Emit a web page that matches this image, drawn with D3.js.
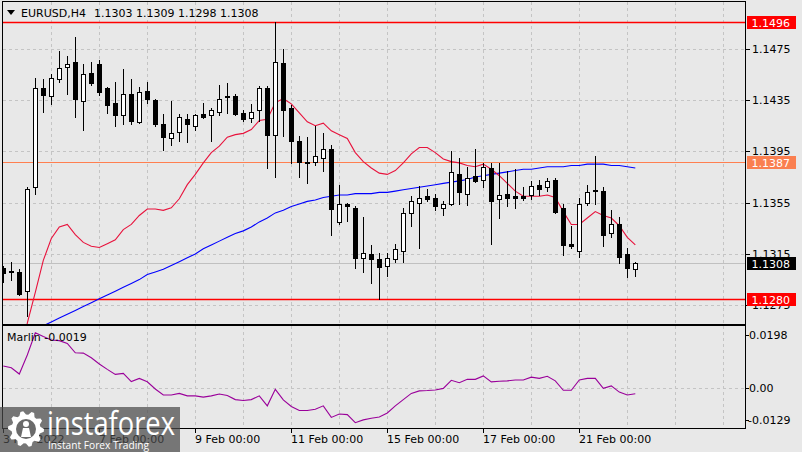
<!DOCTYPE html>
<html><head><meta charset="utf-8">
<script src="https://cdn.jsdelivr.net/npm/d3@7"></script>
<style>
html,body{margin:0;padding:0;background:#e8e8e8;}
svg{display:block;font-family:"DejaVu Sans",sans-serif;}
</style></head><body>
<svg id="c" width="802" height="452"></svg>
<script>
// ---------------- DATA ----------------
const symbol = "EURUSD,H4";
const lastOHLC = ["1.1303", "1.1309", "1.1298", "1.1308"];

const open = [
1.1304,1.1302,1.1301,1.1286,1.1367,1.1444,1.1438,1.1451,1.1461,1.1465,
1.1434,1.1456,1.1463,1.1444,1.1433,1.1423,1.1440,1.1418,1.1442,1.1435,
1.1416,1.1405,1.1410,1.1420,1.1415,1.1424,1.1423,1.1426,1.1438,1.1438,
1.1425,1.1421,1.1427,1.1444,1.1408,1.1464,1.1429,1.1403,1.1387,1.1387,
1.1390,1.1397,1.1340,1.1354,1.1351,1.1312,1.1315,1.1311,1.1306,1.1311,
1.1317,1.1347,1.1355,1.1360,1.1359,1.1351,1.1354,1.1377,1.1362,1.1376,
1.1373,1.1382,1.1358,1.1362,1.1360,1.1360,1.1361,1.1369,1.1367,1.1373,
1.1351,1.1323,1.1317,1.1355,1.1364,1.1364,1.1331,1.1338,1.1315,1.1303];
const high = [
1.1306,1.1309,1.1303,1.1367,1.1452,1.1451,1.1455,1.1473,1.1469,1.1484,
1.1463,1.1465,1.1466,1.1445,1.1449,1.1459,1.1451,1.1445,1.1449,1.1436,
1.1424,1.1434,1.1424,1.1424,1.1424,1.1433,1.1429,1.1447,1.1448,1.1440,
1.1427,1.1432,1.1446,1.1446,1.1496,1.1475,1.1431,1.1407,1.1406,1.1415,
1.1409,1.1400,1.1369,1.1355,1.1352,1.1344,1.1322,1.1316,1.1316,1.1323,
1.1351,1.1360,1.1368,1.1366,1.1362,1.1356,1.1395,1.1390,1.1383,1.1397,
1.1386,1.1386,1.1386,1.1380,1.1381,1.1367,1.1372,1.1373,1.1374,1.1374,
1.1354,1.1337,1.1359,1.1369,1.1391,1.1367,1.1349,1.1344,1.1320,1.1309];
const low = [
1.1293,1.1295,1.1283,1.1267,1.1362,1.1426,1.1432,1.1449,1.1440,1.1422,
1.1412,1.1447,1.1439,1.1425,1.1415,1.1416,1.1416,1.1417,1.1433,1.1415,
1.1396,1.1400,1.1403,1.1402,1.1412,1.1421,1.1403,1.1423,1.1425,1.1423,
1.1419,1.1418,1.1419,1.1382,1.1375,1.1407,1.1386,1.1375,1.1370,1.1384,
1.1380,1.1330,1.1338,1.1341,1.1304,1.1301,1.1292,1.1280,1.1298,1.1309,
1.1309,1.1337,1.1320,1.1356,1.1349,1.1345,1.1353,1.1354,1.1353,1.1371,
1.1367,1.1323,1.1343,1.1352,1.1351,1.1357,1.1358,1.1361,1.1364,1.1347,
1.1314,1.1320,1.1313,1.1353,1.1354,1.1321,1.1328,1.1308,1.1297,1.1298];
const close = [
1.1300,1.1301,1.1284,1.1366,1.1444,1.1439,1.1452,1.1460,1.1463,1.1436,
1.1455,1.1448,1.1441,1.1431,1.1423,1.1440,1.1419,1.1441,1.1436,1.1416,
1.1406,1.1409,1.1422,1.1416,1.1423,1.1422,1.1427,1.1436,1.1437,1.1424,
1.1420,1.1426,1.1444,1.1408,1.1465,1.1427,1.1403,1.1387,1.1386,1.1391,
1.1397,1.1350,1.1354,1.1352,1.1312,1.1316,1.1311,1.1305,1.1312,1.1319,
1.1347,1.1356,1.1359,1.1358,1.1352,1.1354,1.1379,1.1363,1.1374,1.1372,
1.1383,1.1356,1.1361,1.1359,1.1359,1.1359,1.1368,1.1366,1.1372,1.1348,
1.1322,1.1321,1.1354,1.1363,1.1365,1.1330,1.1338,1.1313,1.1304,1.1308];

const maFast = [
null,null,1.1232,1.1261,1.1285,1.1310,1.1327,1.1336,1.1338,1.1330,
1.1324,1.1321,1.1320,1.1323,1.1326,1.1334,1.1338,1.1345,1.1350,1.1350,
1.1349,1.1351,1.1358,1.1369,1.1377,1.1386,1.1394,1.1399,1.1406,1.1408,
1.1409,1.1412,1.1419,1.1420,1.1433,1.1436,1.1432,1.1425,1.1418,1.1415,
1.1417,1.1411,1.1408,1.1405,1.1394,1.1387,1.1382,1.1378,1.1377,1.1380,
1.1386,1.1393,1.1398,1.1398,1.1394,1.1389,1.1387,1.1386,1.1384,1.1383,
1.1385,1.1381,1.1376,1.1370,1.1364,1.1360,1.1360,1.1360,1.1361,1.1359,
1.1348,1.1338,1.1338,1.1343,1.1348,1.1345,1.1343,1.1337,1.1328,1.1322];
const maSlow = [
null,null,null,null,null,1.1259,1.1262,1.1265,1.1268,1.1271,
1.1274,1.1277,1.1280,1.1283,1.1286,1.1289,1.1292,1.1295,1.1299,1.1301,
1.1303,1.1306,1.1309,1.1312,1.1315,1.1319,1.1322,1.1325,1.1328,1.1331,
1.1333,1.1336,1.1340,1.1343,1.1347,1.1349,1.1352,1.1354,1.1356,1.1357,
1.1359,1.1360,1.1361,1.1361,1.1362,1.1362,1.1362,1.1363,1.1363,1.1364,
1.1365,1.1366,1.1367,1.1368,1.1369,1.1370,1.1371,1.1372,1.1373,1.1375,
1.1376,1.1377,1.1378,1.1379,1.1380,1.1381,1.1381,1.1382,1.1383,1.1383,
1.1383,1.1384,1.1384,1.1385,1.1385,1.1385,1.1384,1.1384,1.1383,1.1382];
const marlin = [
0.0070,0.0064,0.0044,0.0105,0.0176,0.0164,0.0153,0.0151,0.0142,0.0112,
0.0111,0.0096,0.0076,0.0059,0.0043,0.0046,0.0020,0.0030,0.0019,-0.0004,
-0.0023,-0.0023,-0.0018,-0.0026,-0.0026,-0.0030,-0.0026,-0.0020,-0.0025,-0.0038,
-0.0041,-0.0038,-0.0026,-0.0058,-0.0005,-0.0039,-0.0060,-0.0073,-0.0073,-0.0069,
-0.0058,-0.0095,-0.0084,-0.0086,-0.0112,-0.0103,-0.0098,-0.0094,-0.0081,-0.0058,
-0.0038,-0.0018,-0.0010,-0.0009,-0.0007,-0.0002,0.0024,0.0016,0.0027,0.0027,
0.0038,0.0019,0.0021,0.0022,0.0025,0.0025,0.0034,0.0030,0.0037,0.0022,
-0.0008,-0.0008,0.0025,0.0030,0.0030,-0.0002,0.0006,-0.0014,-0.0023,-0.0019];
const marlinName = "Marlin";
const marlinLast = "-0.0019";

const priceTicks = [1.1475, 1.1435, 1.1395, 1.1355, 1.1315, 1.1275];
const levelValues = [1.1496, 1.1387, 1.1280];
const bidValue = 1.1308;
const marlinTicks = [0.0198, 0, -0.0129];
const marlinTickLabels = ["0.0198", "0.00", "-0.0129"];
const dateTickBars = [0, 12, 24, 36, 48, 60, 72];
const dateTickLabels = ["3 Feb 2022", "7 Feb 00:00", "9 Feb 00:00", "11 Feb 00:00", "15 Feb 00:00", "17 Feb 00:00", "21 Feb 00:00"];
const gridBars = d3.range(6, 91, 6);

// ---------------- LAYOUT ----------------
const L = 3, R = 745, T = 2, MB = 324, IT = 326, IB = 428;
const svg = d3.select("#c");
svg.append("rect").attr("width", 802).attr("height", 452).attr("fill", "#e8e8e8");

const x = d3.scaleLinear().domain([0, 79]).range([3.3, 635.3]);
const y = d3.scaleLinear().domain([1.12604, 1.15114]).range([MB, T]);
const ym = d3.scaleLinear().domain([-0.0129, 0.0198]).range([IB, IT]);
const px = i => Math.floor(x(i)) + 0.5;

const defs = svg.append("defs");
defs.append("clipPath").attr("id", "cm").append("rect").attr("x", L).attr("y", T).attr("width", R - L).attr("height", MB - T);
defs.append("clipPath").attr("id", "ci").append("rect").attr("x", L).attr("y", IT).attr("width", R - L).attr("height", IB - IT);

const gridColor = "#c4c4c4";
// vertical grid
const vg = svg.append("g").attr("stroke", gridColor).attr("stroke-dasharray", "3,3").attr("shape-rendering", "crispEdges");
gridBars.forEach(b => {
  vg.append("line").attr("x1", px(b)).attr("x2", px(b)).attr("y1", T).attr("y2", MB);
  vg.append("line").attr("x1", px(b)).attr("x2", px(b)).attr("y1", IT).attr("y2", IB);
});
// horizontal grid main
priceTicks.forEach(p => {
  vg.append("line").attr("x1", L).attr("x2", R).attr("y1", Math.round(y(p)) + 0.5).attr("y2", Math.round(y(p)) + 0.5);
});
vg.append("line").attr("x1", L).attr("x2", R).attr("y1", Math.round(ym(0)) + 0.5).attr("y2", Math.round(ym(0)) + 0.5);

// level lines
const main = svg.append("g").attr("clip-path", "url(#cm)");
const levelColors = ["#ff0000", "#ff7f50", "#ff0000"];
main.append("line").attr("x1", L).attr("x2", R).attr("y1", Math.round(y(bidValue)) + 0.5).attr("y2", Math.round(y(bidValue)) + 0.5)
  .attr("stroke", "#c0c0c0").attr("shape-rendering", "crispEdges");
levelValues.forEach((v, k) => {
  main.append("line").attr("x1", L).attr("x2", R).attr("y1", Math.round(y(v)) + 0.5).attr("y2", Math.round(y(v)) + 0.5)
    .attr("stroke", levelColors[k]).attr("stroke-width", k === 1 ? 1 : 1.4);
});

// moving averages
const lineGen = d3.line().defined(d => d.v !== null).x(d => x(d.i)).y(d => y(d.v));
main.append("path").datum(maSlow.map((v, i) => ({ i, v }))).attr("d", lineGen)
  .attr("fill", "none").attr("stroke", "#0000ff").attr("stroke-width", 1.1);
main.append("path").datum(maFast.map((v, i) => ({ i, v }))).attr("d", lineGen)
  .attr("fill", "none").attr("stroke", "#e8123c").attr("stroke-width", 1.1);

// candles
const bars = open.map((o, i) => ({ i, o, h: high[i], l: low[i], c: close[i] }));
const cg = main.append("g").attr("shape-rendering", "crispEdges");
cg.selectAll("line.w").data(bars).join("line").attr("class", "w")
  .attr("x1", d => px(d.i)).attr("x2", d => px(d.i))
  .attr("y1", d => Math.round(y(d.h))).attr("y2", d => Math.round(y(d.l)) + 1)
  .attr("stroke", "#000");
cg.selectAll("rect.b").data(bars).join("rect").attr("class", "b")
  .each(function (d) {
    const top = Math.round(y(Math.max(d.o, d.c)));
    const bot = Math.round(y(Math.min(d.o, d.c)));
    const s = d3.select(this);
    if (d.c > d.o) {
      s.attr("x", px(d.i) - 2).attr("width", 4).attr("y", top + 0.5).attr("height", Math.max(bot - top, 1))
        .attr("fill", "#fff").attr("stroke", "#000");
    } else {
      s.attr("x", px(d.i) - 2.5).attr("width", 5).attr("y", top).attr("height", Math.max(bot - top + 1, 1))
        .attr("fill", "#000");
    }
  });

// marlin
const ind = svg.append("g").attr("clip-path", "url(#ci)");
ind.append("path").datum(marlin.map((v, i) => ({ i, v })))
  .attr("d", d3.line().x(d => x(d.i)).y(d => ym(d.v)))
  .attr("fill", "none").attr("stroke", "#9a009a").attr("stroke-width", 1.1);

// borders
const bd = svg.append("g").attr("fill", "none").attr("stroke", "#000").attr("shape-rendering", "crispEdges");
bd.append("rect").attr("x", L - 0.5).attr("y", T - 0.5).attr("width", R - L + 1).attr("height", MB - T + 1);
bd.append("rect").attr("x", L - 0.5).attr("y", IT - 0.5).attr("width", R - L + 1).attr("height", IB - IT + 1);

// price axis
const pa = svg.append("g").attr("transform", `translate(${R + 0.5},0)`)
  .call(d3.axisRight(y).tickValues(priceTicks).tickSize(4).tickFormat(d3.format(".4f")));
pa.select(".domain").remove();
pa.selectAll("line").attr("stroke", "#000").attr("shape-rendering", "crispEdges");
pa.selectAll("text").attr("font-size", 11).attr("font-family", "DejaVu Sans").attr("fill", "#000").attr("x", 6.5);

// level boxes
const boxData = [
  { v: levelValues[0], bg: "#ff0000", t: levelValues[0].toFixed(4) },
  { v: levelValues[1], bg: "#fa7f50", t: levelValues[1].toFixed(4) },
  { v: bidValue, bg: "#000000", t: bidValue.toFixed(4) },
  { v: levelValues[2], bg: "#ff0000", t: levelValues[2].toFixed(4) }
];
const bx = svg.append("g");
boxData.forEach(b => {
  const cy = Math.round(y(b.v));
  bx.append("rect").attr("x", 747).attr("y", cy - 6).attr("width", 49).attr("height", 13).attr("fill", b.bg);
  bx.append("text").attr("x", 751.5).attr("y", cy + 4.5).attr("font-size", 11).attr("fill", "#fff").text(b.t);
});

// marlin axis
const ma = svg.append("g");
marlinTicks.forEach((v, k) => {
  const cy = Math.min(Math.max(ym(v), IT + 9), IB - 8);
  ma.append("line").attr("x1", R + 1).attr("x2", R + 4).attr("y1", Math.round(cy) + 0.5).attr("y2", Math.round(cy) + 0.5)
    .attr("stroke", "#000").attr("shape-rendering", "crispEdges");
  ma.append("text").attr("x", k === 2 ? 748 : 749).attr("y", cy + 4).attr("font-size", 11).attr("fill", "#000").text(marlinTickLabels[k]);
});

// date axis
const da = svg.append("g").attr("transform", `translate(0,${IB + 0.5})`)
  .call(d3.axisBottom(x).tickValues(dateTickBars).tickSize(4).tickFormat((d, k) => dateTickLabels[k]));
da.select(".domain").remove();
da.selectAll(".tick").attr("transform", d => `translate(${px(d)},0)`);
da.selectAll("line").attr("stroke", "#000").attr("shape-rendering", "crispEdges");
da.selectAll("text").attr("font-size", 11).attr("font-family", "DejaVu Sans").attr("fill", "#000")
  .attr("text-anchor", "start").attr("x", -0.5).attr("y", 7).attr("dy", "0.71em");

// title
svg.append("path").attr("d", "M7,10L15,10L11,15Z").attr("fill", "#000");
svg.append("text").attr("x", 21).attr("y", 17).attr("font-size", 11).attr("fill", "#000").text(symbol);
svg.append("text").attr("x", 94).attr("y", 17).attr("font-size", 11).attr("fill", "#000").text(lastOHLC.join(" "));
svg.append("text").attr("x", 7).attr("y", 341).attr("font-size", 11).attr("fill", "#000").text(marlinName + " " + marlinLast);

// watermark
const wm = svg.append("g");
wm.append("rect").attr("x", 0).attr("y", 407).attr("width", 180).attr("height", 45).attr("fill", "#4a4a4a").attr("opacity", 0.72);
const gc = [26, 429];
const teeth = 10, rO = 18, rI = 14.5;
const gearPts = [];
for (let k = 0; k < teeth * 4; k++) {
  const a = (k / (teeth * 4)) * 2 * Math.PI;
  const r = (k % 4 === 0 || k % 4 === 1) ? rO : rI;
  gearPts.push([gc[0] + r * Math.cos(a), gc[1] + r * Math.sin(a)]);
}
wm.append("path").attr("d", d3.line()(gearPts) + "Z").attr("fill", "#fff");
wm.append("circle").attr("cx", gc[0]).attr("cy", gc[1]).attr("r", 10).attr("fill", "#6a6a6a");
wm.append("circle").attr("cx", gc[0]).attr("cy", gc[1] - 5).attr("r", 3).attr("fill", "#fff");
wm.append("path").attr("d", `M${gc[0] - 5},${gc[1] + 8}L${gc[0] - 3},${gc[1] - 1}L${gc[0] + 3},${gc[1] - 1}L${gc[0] + 5},${gc[1] + 8}Z`).attr("fill", "#fff");
wm.append("text").attr("x", 47).attr("y", 435).attr("font-family", "Open Sans, sans-serif").attr("font-size", 32)
  .attr("fill", "#fff").attr("textLength", 128).attr("lengthAdjust", "spacingAndGlyphs").text("instaforex");
wm.append("text").attr("x", 48).attr("y", 449).attr("font-family", "Open Sans, sans-serif").attr("font-size", 11)
  .attr("fill", "#fff").attr("textLength", 101).attr("lengthAdjust", "spacingAndGlyphs").text("Instant Forex Trading");
</script>
</body></html>
